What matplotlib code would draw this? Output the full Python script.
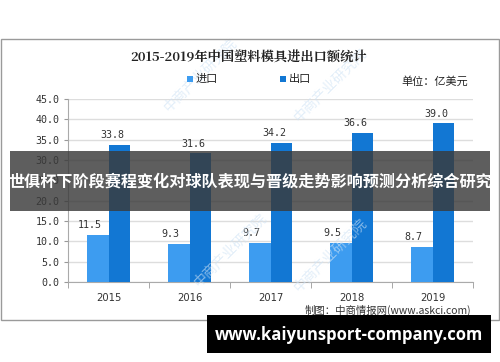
import matplotlib
matplotlib.use("Agg")
import matplotlib.pyplot as plt
from matplotlib.patches import Rectangle
import numpy as np

plt.rcParams['font.family'] = ['Noto Sans CJK SC', 'DejaVu Sans']

years = ["2015", "2016", "2017", "2018", "2019"]
imports = [11.5, 9.3, 9.7, 9.5, 8.7]
exports = [33.8, 31.6, 34.2, 36.6, 39.0]
yticks = [0, 5, 10, 15, 20, 25, 30, 35, 40, 45]

title = "2015-2019年中国塑料模具进出口额统计"
legend_labels = ["进口", "出口"]
unit_text = "单位：亿美元"
source_text = "制图：中商情报网(www.askci.com)"
overlay_text = "世俱杯下阶段赛程变化对球队表现与晋级走势影响预测分析综合研究"
site_text = "www.kaiyunsport-company.com"
watermark = "中商产业研究院"

c_imp = "#3d9cf0"
c_exp = "#1277d3"

W, H = 500, 362
fig = plt.figure(figsize=(W/100, H/100), dpi=100)
fig.patch.set_facecolor("white")

def px(x, y):
    return x / W, 1 - y / H

# frame
fig.add_artist(Rectangle(px(1, 320), 498/W, 281/H, transform=fig.transFigure,
                         fill=False, edgecolor="#9a9a9a", lw=1.0))

# watermarks
for (wx, wy) in [(200, 75), (330, 85), (230, 250), (330, 255)]:
    fig.text(wx / W, 1 - wy / H, watermark, rotation=45, color="#cfe3f5", fontsize=10,
             ha="center", va="center", alpha=0.6, zorder=0)

ax = fig.add_axes([68/W, (H-282)/H, 405/W, 183/H])
ax.set_facecolor("none")
x = np.arange(len(years))
bw = 0.26
ax.bar(x - bw/2, imports, bw, color=c_imp, zorder=3)
ax.bar(x + bw/2, exports, bw, color=c_exp, zorder=3)
for xi, v in zip(x, imports):
    ax.text(xi - bw/2 - 0.1, v + 1.2, f"{v:.1f}", ha="center", va="bottom", fontsize=7.2,
            color="#333333", family="DejaVu Sans Mono")
for xi, v in zip(x, exports):
    ax.text(xi + bw/2 - 0.08, v + 1.2, f"{v:.1f}", ha="center", va="bottom", fontsize=7.2,
            color="#333333", family="DejaVu Sans Mono")

ax.set_xlim(-0.5, len(years) - 0.5)
ax.set_ylim(0, 45)
ax.set_yticks(yticks)
ax.set_yticklabels([f"{t:.1f}" for t in yticks], fontsize=7.2, color="#333333",
                   family="DejaVu Sans Mono")
ax.set_xticks(x)
ax.set_xticklabels(years, fontsize=7.2, color="#333333", family="DejaVu Sans")
ax.tick_params(axis="x", length=0, pad=8)
ax.tick_params(axis="y", length=3, color="#999999", pad=3)
ax.set_xticks(np.arange(-0.5, len(years)), minor=True)
ax.tick_params(axis="x", which="minor", length=4, color="#999999")
ax.grid(axis="y", color="#dddddd", lw=1, zorder=0)
for s in ["top", "right"]:
    ax.spines[s].set_visible(False)
ax.spines["left"].set_color("#aaaaaa")
ax.spines["bottom"].set_color("#aaaaaa")

# title, legend, unit
fig.text(249/W, 1 - 57/H, title, ha="center", va="center", fontsize=9.5, fontweight="bold",
         color="#222222", family=["Noto Serif CJK SC", "Noto Sans CJK SC", "DejaVu Serif"])
for lx, lab, c in [(190, legend_labels[0], c_imp), (283, legend_labels[1], c_exp)]:
    fig.add_artist(Rectangle(px(lx - 3, 82), 6/W, 6/H, transform=fig.transFigure,
                             color=c, lw=0))
    fig.text((lx + 6)/W, 1 - 79/H, lab, ha="left", va="center", fontsize=8, color="#222222")
fig.text(468/W, 1 - 81/H, unit_text, ha="right", va="center", fontsize=8, color="#222222")
fig.text(471/W, 1 - 310/H, source_text, ha="right", va="center", fontsize=7.5, color="#333333")

# overlay band
fig.add_artist(Rectangle(px(10, 211), 480/W, 60/H, transform=fig.transFigure,
                         color="#3a3a3a", alpha=0.82, lw=0, zorder=10))
fig.text(250/W, 1 - 182/H, overlay_text, ha="center", va="center", fontsize=11.6,
         fontweight="bold", color="white", zorder=11)

# bottom site box
fig.add_artist(Rectangle(px(207, 353), 284/W, 38/H, transform=fig.transFigure,
                         color="black", lw=0, zorder=10))
fig.text(349/W, 1 - 335/H, site_text, ha="center", va="center", fontsize=12,
         fontweight="bold", color="white", zorder=11, family=["Open Sans", "DejaVu Sans"])

fig.savefig("out.png", dpi=100)
